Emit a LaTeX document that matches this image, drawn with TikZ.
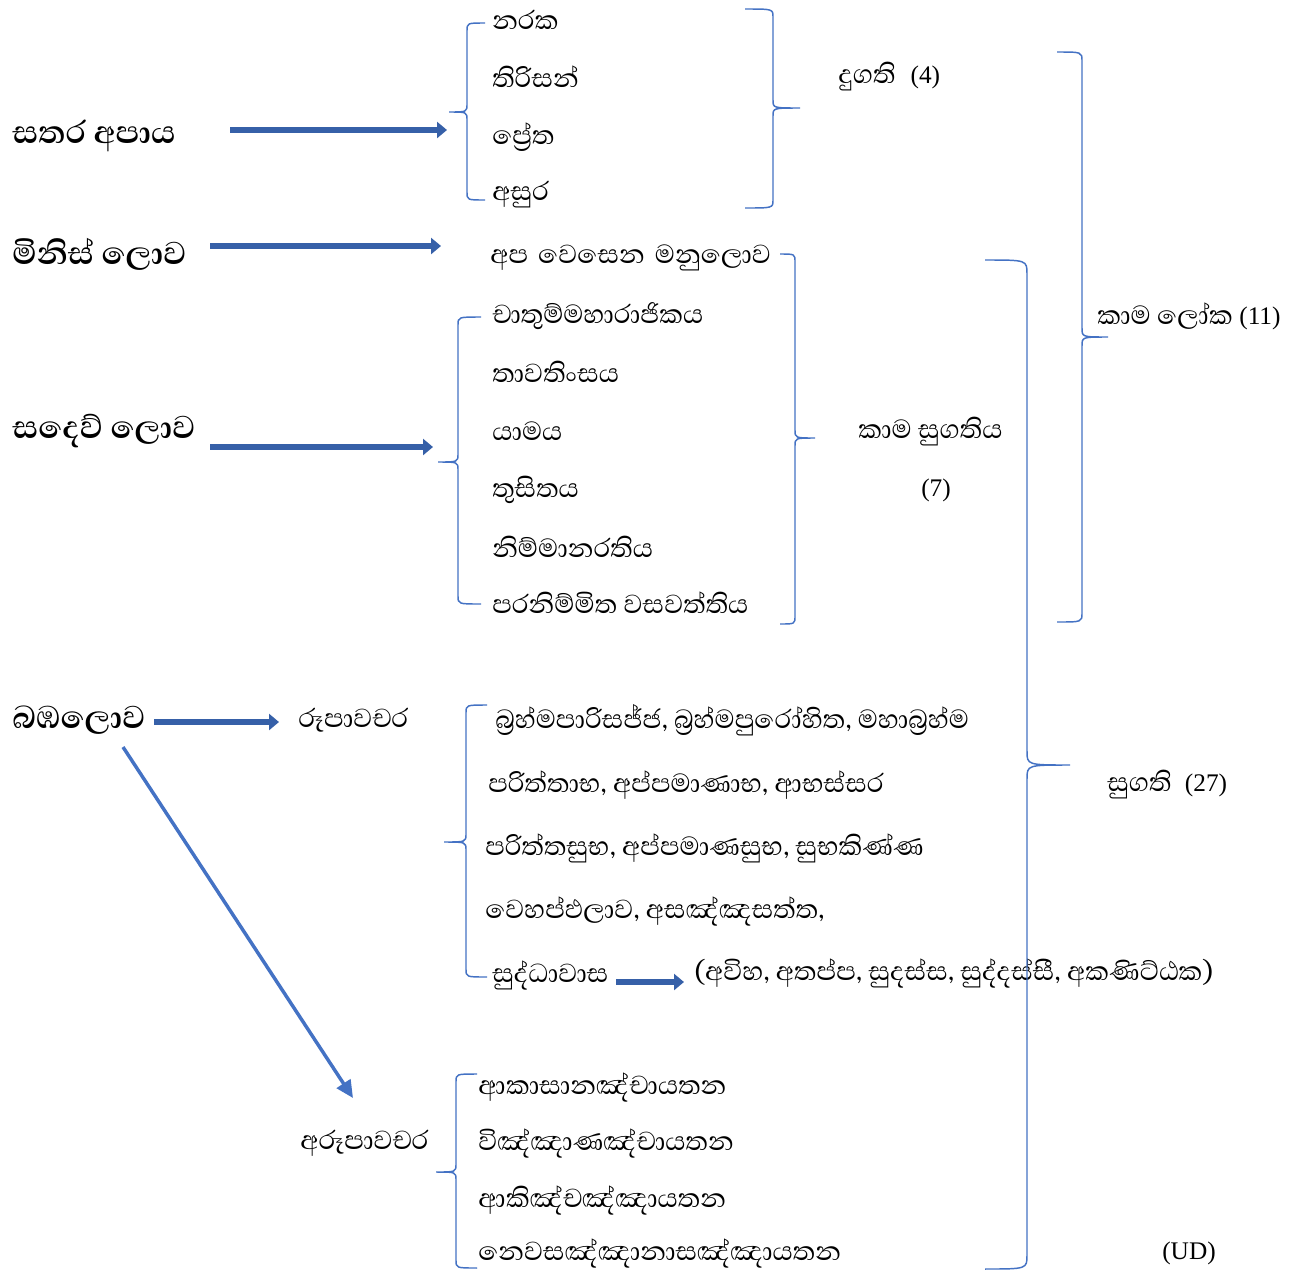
\documentclass[tikz,border=0pt]{standalone}
\usepackage{fontspec}
\setmainfont{Liberation Serif}
\newfontfamily\sinhala[Script=Sinhala,Scale=1.32]{Abhaya Libre}
\usetikzlibrary{arrows.meta}
\definecolor{brc}{HTML}{4472C4}
\definecolor{arc}{HTML}{3660A8}
\tikzset{
 txt/.style={anchor=west, inner sep=0pt, font=\sinhala\fontsize{19}{22}\selectfont},
 lbl/.style={anchor=west, inner sep=0pt, font=\sinhala\bfseries\fontsize{23}{27}\selectfont},
 blockarrow/.style={draw=arc, line width=5pt, -{Triangle[length=7.5pt,width=12pt]}},
 brace/.style={draw=brc, line width=1.1pt},
 thinarrow/.style={draw=brc, line width=2.6pt, -{Triangle[length=13pt,width=12pt]}},
}
% #1 end x, #2 spine x, #3 tip x, #4 top y, #5 tip y, #6 bottom y, #7 corner
\newcommand{\WordBrace}[7]{%
 \draw[brace] (#1,#4) .. controls (#2,#4) .. (#2,#4+#7) -- (#2,#5-#7)
  .. controls (#2,#5) .. (#3,#5) .. controls (#2,#5) .. (#2,#5+#7)
  -- (#2,#6-#7) .. controls (#2,#6) .. (#1,#6);}
\begin{document}
\begin{tikzpicture}[x=0.75pt,y=-0.75pt]
\useasboundingbox[fill=white] (0,0) rectangle (1304,1272);

% left labels
\node[lbl] (apaya) at (12,136) {සතර අපාය};
\node[lbl] (minis) at (12,254) {මිනිස් ලොව};
\node[lbl] (sadev) at (12,431) {සදෙව් ලොව};
\node[lbl] (bamba) at (12,720) {බඹලොව};

% apaya list
\node[txt] (naraka) at (492,20) {නරක};
\node[txt] (tirisan) at (492,77) {තිරිසන්};
\node[txt] (preta) at (492,137) {ප්‍රේත};
\node[txt] (asura) at (492,195) {අසුර};
\node[txt] (dugati) at (838,77) {දුගති\hspace{0.45em}{\rmfamily (4)}};

% human + deva
\node[txt] (manu) at (490,258) {අප\hspace{0.3em}වෙසෙන\hspace{0.3em}මනුලොව};
\node[txt] (catu) at (492,316) {චාතුම්මහාරාජිකය};
\node[txt] (tava) at (492,372) {තාවතිංසය};
\node[txt] (yama) at (492,431) {යාමය};
\node[txt] (tusi) at (492,490) {තුසිතය};
\node[txt] (nimm) at (492,547) {නිම්මානරතිය};
\node[txt] (para) at (492,603) {පරනිම්මිත වසවත්තිය};
\node[txt] (kamasu) at (858,432) {කාම සුගතිය};
\node[txt] (seven) at (921,490) {\rmfamily (7)};
\node[txt] (kamalo) at (1097,316) {කාම ලෝක {\rmfamily (11)}};

% rupa
\node[txt] (rupa) at (298,720) {රූපාවචර};
\node[txt] (r1) at (495,720) {බ්‍රහ්මපාරිසජ්ජ, බ්‍රහ්මපුරෝහිත, මහාබ්‍රහ්ම};
\node[txt] (r2) at (488,785) {පරිත්තාභ, අප්පමාණාභ, ආභස්සර};
\node[txt] (r3) at (485,848) {පරිත්තසුභ, අප්පමාණසුභ, සුභකිණ්ණ};
\node[txt] (r4) at (485,911) {වෙහප්ඵලාව, අසඤ්ඤසත්ත,};
\node[txt] (r5) at (492,975) {සුද්ධාවාස};
\node[txt] (r6) at (694,973) {(අවිහ, අතප්ප, සුදස්ස, සුද්දස්සී, අකණිට්ඨක)};
\node[txt] (sugati) at (1107,785) {සුගති\hspace{0.4em}{\rmfamily (27)}};

% arupa
\node[txt] (arupa) at (300,1143) {අරූපාවචර};
\node[txt] (a1) at (478,1087) {ආකාසානඤ්චායතන};
\node[txt] (a2) at (478,1143) {විඤ්ඤාණඤ්චායතන};
\node[txt] (a3) at (478,1200) {ආකිඤ්චඤ්ඤායතන};
\node[txt] (a4) at (478,1253) {නෙවසඤ්ඤානාසඤ්ඤායතන};
\node[txt] (ud) at (1162,1253) {\rmfamily (UD)};

% block arrows
\coordinate (p1s) at (230,130); \coordinate (p1e) at (447,130);
\coordinate (p2s) at (210,246); \coordinate (p2e) at (441,246);
\coordinate (p3s) at (210,447); \coordinate (p3e) at (433,447);
\coordinate (p4s) at (154,722); \coordinate (p4e) at (279,722);
\coordinate (p5s) at (616,982); \coordinate (p5e) at (684,982);
\draw[blockarrow] (p1s) -- (p1e);
\draw[blockarrow] (p2s) -- (p2e);
\draw[blockarrow] (p3s) -- (p3e);
\draw[blockarrow] (p4s) -- (p4e);
\draw[blockarrow] (p5s) -- (p5e);

% diagonal arrow
\coordinate (dgs) at (123,747); \coordinate (dge) at (353,1098);
\draw[thinarrow] (dgs) -- (dge);

% braces
\WordBrace{485}{467}{449}{23}{112}{200}{8}
\WordBrace{745}{773}{800}{9}{108}{208}{8}
\WordBrace{780}{795}{815}{254}{438}{624}{8}
\WordBrace{481}{458}{438}{317}{462}{604}{8}
\WordBrace{1057}{1082}{1108}{52}{337}{622}{9}
\WordBrace{985}{1027}{1070}{260}{765}{1269}{14}
\WordBrace{487}{466}{444}{705}{842}{977}{8}
\WordBrace{477}{456}{436}{1074}{1172}{1268}{8}
\end{tikzpicture}
\end{document}
